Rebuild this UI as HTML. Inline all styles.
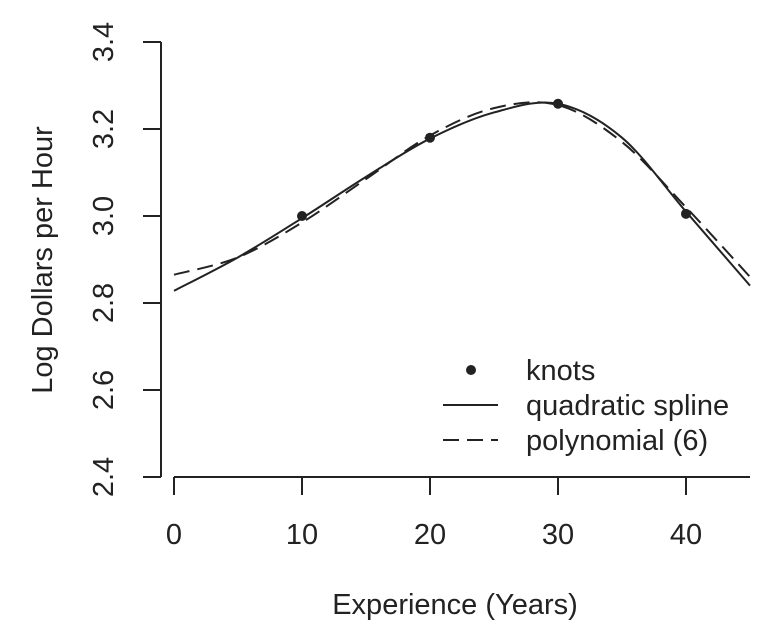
<!DOCTYPE html>
<html><head><meta charset="utf-8"><style>
body{margin:0;background:#fff}
svg text{font-family:"Liberation Sans",sans-serif;fill:#222}
</style></head><body>
<svg id="chart" width="762" height="634" viewBox="0 0 762 634">
<g id="axes"></g>
<g id="series"></g>
<g id="legend">
<circle cx="471" cy="370" r="5" fill="#222"/>
<text x="526" y="380" font-size="29">knots</text>
<line x1="443" y1="405" x2="498" y2="405" stroke="#222" stroke-width="2"/>
<text x="526" y="415" font-size="29">quadratic spline</text>
<line x1="443" y1="440" x2="498" y2="440" stroke="#222" stroke-width="2" stroke-dasharray="16,8"/>
<text x="526" y="450" font-size="29">polynomial (6)</text>
</g>
<text x="455" y="614" font-size="29" text-anchor="middle">Experience (Years)</text>
<text transform="translate(52,260) rotate(-90)" font-size="29" text-anchor="middle">Log Dollars per Hour</text>
</svg>
<script>
const xTicks=[0,10,20,30,40];
const yTicks=[2.4,2.6,2.8,3.0,3.2,3.4];
const yTickLabels=["2.4","2.6","2.8","3.0","3.2","3.4"];
const gridX=[0,5,10,15,20,25,30,35,40,45];
const splineY=[2.828,2.905,2.995,3.09,3.178,3.238,3.258,3.18,3.01,2.84];
const polyY=[2.865,2.905,2.985,3.085,3.185,3.248,3.255,3.17,3.02,2.86];
const knotX=[10,20,30,40];
const knotY=[3.0,3.18,3.258,3.005];
const NS="http://www.w3.org/2000/svg";
const X=v=>174+v*12.8;
const Y=v=>477-(v-2.4)*435;
function mk(t,a,p){const e=document.createElementNS(NS,t);for(const k in a)e.setAttribute(k,a[k]);p.appendChild(e);return e;}
const ax=document.getElementById('axes');
let e=mk('line',{x1:161,y1:Y(3.4),x2:161,y2:Y(2.4),stroke:'#222','stroke-width':2},ax);


e=mk('line',{x1:X(0),y1:477,x2:750,y2:477,stroke:'#222','stroke-width':2},ax);


yTicks.forEach((v,i)=>{
 const t=mk('line',{x1:143,y1:Y(v),x2:161,y2:Y(v),stroke:'#222','stroke-width':2},ax);
 
 
 const l=mk('text',{transform:`translate(113,${Y(v)}) rotate(-90)`,'font-size':29,'text-anchor':'middle'},ax);
 l.textContent=yTickLabels[i];
 
 
});
xTicks.forEach(v=>{
 const t=mk('line',{x1:X(v),y1:477,x2:X(v),y2:495,stroke:'#222','stroke-width':2},ax);
 
 
 const l=mk('text',{x:X(v),y:544,'font-size':29,'text-anchor':'middle'},ax);
 l.textContent=String(v);
 
 
});
function path(xs,ys){
 const p=xs.map((x,i)=>[X(x),Y(ys[i])]);
 let d=`M${p[0][0]},${p[0][1]}`;
 for(let i=0;i<p.length-1;i++){
  const p0=p[i-1]||p[i],p1=p[i],p2=p[i+1],p3=p[i+2]||p2;
  d+=` C${p1[0]+(p2[0]-p0[0])/6},${p1[1]+(p2[1]-p0[1])/6} ${p2[0]-(p3[0]-p1[0])/6},${p2[1]-(p3[1]-p1[1])/6} ${p2[0]},${p2[1]}`;
 }
 return d;
}
const sg=document.getElementById('series');
e=mk('path',{d:path(gridX,splineY),fill:'none',stroke:'#222','stroke-width':2},sg);


e=mk('path',{d:path(gridX,polyY),fill:'none',stroke:'#222','stroke-width':2,'stroke-dasharray':'16,8'},sg);


knotX.forEach((x,i)=>{
 const c=mk('circle',{cx:X(x),cy:Y(knotY[i]),r:5,fill:'#222'},sg);
 
 
});
</script>
</body></html>
